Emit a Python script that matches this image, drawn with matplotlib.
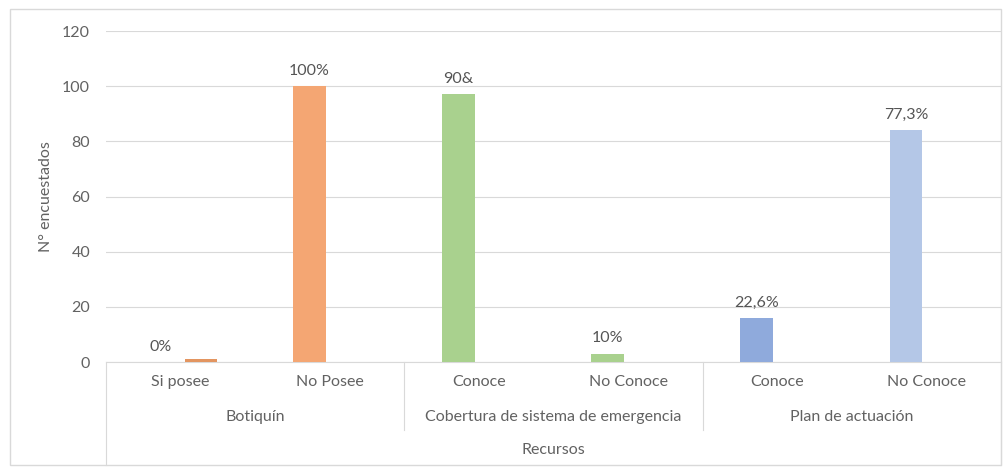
import numpy as np
import matplotlib.pyplot as plt
from matplotlib.patches import Rectangle

# Datos de la encuesta (Recursos)
grupos = ['Botiquín', 'Cobertura de sistema de emergencia', 'Plan de actuación']
categorias = ['Si posee', 'No Posee', 'Conoce', 'No Conoce', 'Conoce', 'No Conoce']
encuestados = [0, 100, 97, 3, 16, 84]
etiquetas = ['0%', '100%', '90&', '10%', '22,6%', '77,3%']
serie_2 = [1, 0, 0, 0, 0, 0]

colores = ['#F4A673', '#F4A673', '#A9D18E', '#A9D18E', '#8FAADC', '#B4C7E7']
gris = '#626262'
linea = '#D9D9D9'
fs = 11.5

plt.rcParams['font.family'] = ['Lato', 'DejaVu Sans']

fig = plt.figure(figsize=(10.05, 4.67), dpi=100)
ax = fig.add_axes([0.1055, 0.2248, 0.8905, 0.7088])

x = np.arange(len(categorias))
ancho = 0.22
desp = 0.137

barras = ax.bar(x - desp, encuestados, ancho, color=colores, zorder=3)
ax.bar(x + desp, serie_2, ancho, color='#E39560', zorder=3)
ax.bar_label(barras, labels=etiquetas, padding=6, color='#555555', fontsize=fs)

ax.set_xlim(-0.5, len(categorias) - 0.5)
ax.set_ylim(0, 120)
ax.set_yticks(range(0, 121, 20))
ax.grid(axis='y', color=linea, linewidth=0.8, zorder=0)
for s in ['top', 'right', 'left']:
    ax.spines[s].set_visible(False)
ax.spines['bottom'].set_color(linea)

ax.set_xticks(x, categorias)
ax.tick_params(axis='x', length=0, pad=9.5, labelsize=fs, labelcolor=gris)
ax.tick_params(axis='y', length=0, pad=11.5, labelsize=fs, labelcolor=gris)

ax.set_ylabel('N° encuestados', fontsize=fs, color=gris)
ax.yaxis.set_label_coords(-0.0595, 0.5)

# eje de categorias en dos niveles
trans = ax.get_xaxis_transform()
for i, g in enumerate(grupos):
    ax.text(2 * i + 0.5, -0.166, g, transform=trans, ha='center', va='center',
            fontsize=fs, color=gris)
ax.text(2.5, -0.266, 'Recursos', transform=trans, ha='center', va='center',
        fontsize=fs, color=gris)
for xv in [1.5, 3.5]:
    ax.plot([xv, xv], [0, -0.205], transform=trans, color=linea, lw=0.8, clip_on=False)
for xv in [-0.5, 5.5]:
    ax.plot([xv, xv], [0, -0.311], transform=trans, color=linea, lw=0.8, clip_on=False)

fig.patches.append(Rectangle((0.00995, 0.0043), 0.986, 0.9764, transform=fig.transFigure,
                             fill=False, ec=linea, lw=1))

fig.savefig('out.png', dpi=100)
